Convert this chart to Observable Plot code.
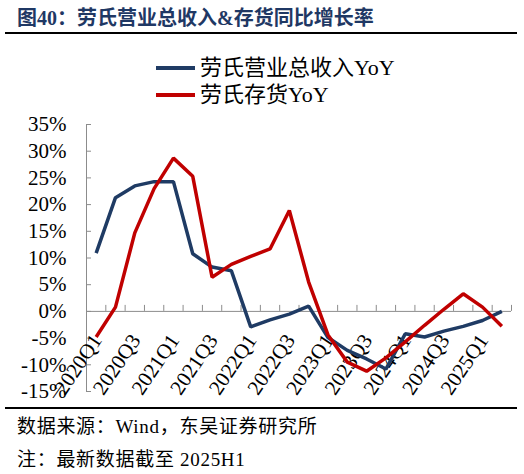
<!DOCTYPE html>
<html>
<head>
<meta charset="utf-8">
<script src="https://cdn.jsdelivr.net/npm/d3@7"></script>
<script src="https://cdn.jsdelivr.net/npm/@observablehq/plot@0.6"></script>
<style>
  body { margin: 0; background: #fff; }
  #wrap { position: relative; width: 524px; height: 474px; overflow: hidden;
          font-family: "Liberation Serif", "Noto Sans CJK SC", serif; color: #000; }
  #title { position: absolute; left: 17px; top: 6px; font-size: 20px; font-weight: bold;
           color: #1f3864; line-height: 24px; white-space: nowrap; }
  .hr { position: absolute; left: 5px; width: 512px; background: #000; }
  .lg-line { position: absolute; left: 156px; width: 39px; height: 3.5px; }
  .lg-text { position: absolute; left: 200px; font-size: 22px; line-height: 26px; white-space: nowrap; }
  .foot { position: absolute; left: 17px; font-size: 19px; line-height: 24px; white-space: nowrap; letter-spacing: 0.7px; }
  #chart { position: absolute; left: 0; top: 106px; }
  #chart svg { overflow: visible; }
</style>
</head>
<body>
<div id="wrap">
  <div id="title">图40：劳氏营业总收入&amp;存货同比增长率</div>
  <div class="hr" style="top:32px;height:2px;"></div>
  <div id="legend"></div>
  <div id="chart"></div>
  <div class="hr" style="top:407px;height:2px;"></div>
  <div class="foot" style="top:415px;">数据来源：Wind，东吴证券研究所</div>
  <div class="foot" style="top:448px;">注：最新数据截至 2025H1</div>
</div>
<script>
// ---- data ----
const quarters = [
  "2020Q1","2020Q2","2020Q3","2020Q4",
  "2021Q1","2021Q2","2021Q3","2021Q4",
  "2022Q1","2022Q2","2022Q3","2022Q4",
  "2023Q1","2023Q2","2023Q3","2023Q4",
  "2024Q1","2024Q2","2024Q3","2024Q4",
  "2025Q1","2025Q2"
];
// 劳氏营业总收入YoY (%)
const revenueYoY = [10.9, 21.3, 23.5, 24.3, 24.3, 10.8, 8.3, 7.6, -2.9, -1.6, -0.5, 1.0,
                    -4.9, -7.3, -8.9, -10.8, -4.2, -4.8, -3.7, -2.8, -1.7, 0.0];
// 劳氏存货YoY (%)
const inventoryYoY = [-4.8, 0.8, 14.7, 23.0, 28.7, 25.3, 6.4, 8.8, 10.3, 11.7, 18.9, 5.5,
                      -4.4, -9.5, -11.2, -8.7, -5.7, -2.6, 0.4, 3.3, 0.8, -2.8];
const seriesNames = ["劳氏营业总收入YoY", "劳氏存货YoY"];
const yTicks = [-15, -10, -5, 0, 5, 10, 15, 20, 25, 30, 35];
const xLabelStep = 2;

// ---- styles ----
const colors = ["#1f3b64", "#c00000"];
const axisColor = "#8c8c8c";
const latin = "Liberation Serif, Noto Sans CJK SC, serif";

// legend
const legend = document.getElementById("legend");
seriesNames.forEach((name, k) => {
  const line = document.createElement("div");
  line.className = "lg-line";
  line.style.top = (66.3 + k * 27) + "px";
  line.style.background = colors[k];
  legend.appendChild(line);
  const t = document.createElement("div");
  t.className = "lg-text";
  t.style.top = (55 + k * 27) + "px";
  t.textContent = name;
  legend.appendChild(t);
});

const idx = quarters.map((_, i) => i);
const rows = idx.map(i => ({i, q: quarters[i], rev: revenueYoY[i], inv: inventoryYoY[i]}));
const xMin = -0.5, xMax = quarters.length - 0.5;
const boundaries = d3.range(quarters.length + 1).map(k => k - 0.5);
const labelIdx = idx.filter(i => i % xLabelStep === 0);

const chart = Plot.plot({
  width: 524,
  height: 300,
  marginLeft: 86,
  marginRight: 13,
  marginTop: 18,
  marginBottom: 15,
  style: {fontFamily: latin, background: "transparent", overflow: "visible"},
  x: {type: "linear", domain: [xMin, xMax], axis: null},
  y: {domain: [yTicks[0], yTicks[yTicks.length - 1]]},
  marks: [
    Plot.ruleX([xMin], {stroke: axisColor, strokeWidth: 1}),
    Plot.ruleY([0], {stroke: axisColor, strokeWidth: 1}),
    Plot.ruleY(yTicks, {y: d => d, x1: () => xMin, x2: () => xMin, insetRight: -5, stroke: axisColor}),
    Plot.ruleX(boundaries, {x: d => d, y1: () => 0, y2: () => 0, insetTop: -6, stroke: axisColor}),
    Plot.axisY({ticks: yTicks, tickFormat: d => `${d}%`, tickSize: 0, tickPadding: 20,
                fontSize: 21, fill: "#000", fontFamily: latin}),
    Plot.text(labelIdx, {x: d => d, y: () => 0, text: d => quarters[d], rotate: -56,
                textAnchor: "end", lineAnchor: "middle", dy: 25, dx: 1,
                fontSize: 21, fill: "#000", fontFamily: latin}),
    Plot.line(rows, {x: "i", y: "rev", stroke: colors[0], strokeWidth: 3.5,
                strokeLinejoin: "miter", strokeLinecap: "butt"}),
    Plot.line(rows, {x: "i", y: "inv", stroke: colors[1], strokeWidth: 3.5,
                strokeLinejoin: "miter", strokeLinecap: "butt"})
  ]
});
document.getElementById("chart").appendChild(chart);
</script>
</body>
</html>
